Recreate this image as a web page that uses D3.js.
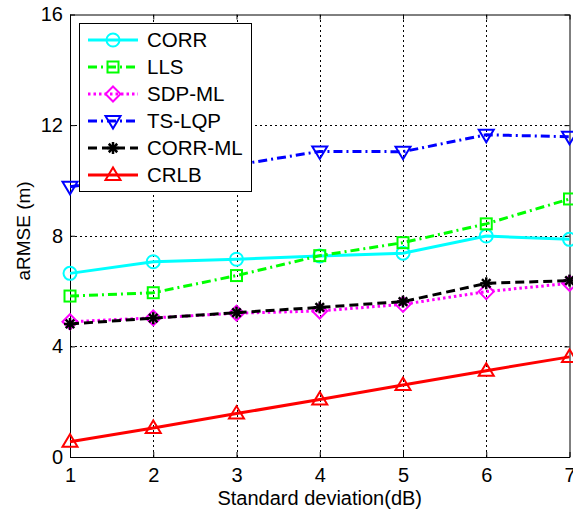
<!DOCTYPE html>
<html>
<head>
<meta charset="utf-8">
<script src="https://cdn.jsdelivr.net/npm/d3@7"></script>
<style>
  body { margin:0; background:#fff; }
  svg { display:block; font-family:"Liberation Sans", Arial, sans-serif; }
</style>
</head>
<body>
<svg id="chart" width="573" height="514"></svg>
<script>
// x values (standard deviation, dB)
const sigma = [1, 2, 3, 4, 5, 6, 7];

// aRMSE values per method
const corr   = [6.64, 7.06, 7.15, 7.27, 7.37, 7.99, 7.87];
const lls    = [5.82, 5.94, 6.56, 7.28, 7.75, 8.43, 9.33];
const sdpml  = [4.89, 5.03, 5.20, 5.28, 5.52, 5.98, 6.28];
const tslqp  = [9.77, 10.2, 10.56, 11.05, 11.04, 11.65, 11.58];
const corrml = [4.81, 5.02, 5.22, 5.41, 5.62, 6.28, 6.38];
const crlb   = [0.55, 1.05, 1.57, 2.08, 2.6, 3.12, 3.62];

const yTicks = [0, 4, 8, 12, 16];
const names = ['CORR', 'LLS', 'SDP-ML', 'TS-LQP', 'CORR-ML', 'CRLB'];

const series = [
  {name:names[0], values:corr,   color:'#00ffff', dash:null,        marker:'circle'},
  {name:names[1], values:lls,    color:'#00ff00', dash:'9,4,2,4',   marker:'square'},
  {name:names[2], values:sdpml,  color:'#ff00ff', dash:'2.5,3',     marker:'diamond'},
  {name:names[3], values:tslqp,  color:'#0000ff', dash:'9,4,2,4',   marker:'tridown'},
  {name:names[4], values:corrml, color:'#000000', dash:'9,5',       marker:'star'},
  {name:names[5], values:crlb,   color:'#ff0000', dash:null,        marker:'triup'}
];

const margin = {left:70, right:3.5, top:14.5, bottom:57};
const width = 573, height = 514;
const svg = d3.select('#chart');

const x = d3.scaleLinear().domain([1, 7]).range([margin.left, width - margin.right]);
const y = d3.scaleLinear().domain([0, 16]).range([height - margin.bottom, margin.top]);

// grid
const grid = svg.append('g').attr('stroke', '#000').attr('stroke-width', 1)
  .attr('stroke-dasharray', '2,3').attr('shape-rendering', 'crispEdges');
grid.selectAll('line.gx').data(sigma.slice(1, -1)).join('line')
  .attr('x1', d => Math.round(x(d)) + 0.5).attr('x2', d => Math.round(x(d)) + 0.5)
  .attr('y1', y(0)).attr('y2', y(16));
grid.selectAll('line.gy').data(yTicks.slice(1, -1)).join('line')
  .attr('y1', d => Math.round(y(d)) + 0.5).attr('y2', d => Math.round(y(d)) + 0.5)
  .attr('x1', x(1)).attr('x2', x(7));

// axes (ticks inward, mirrored on top/right)
const tickLen = 5;
const axB = svg.append('g').attr('transform', `translate(0,${y(0)})`)
  .call(d3.axisBottom(x).tickValues(sigma).tickFormat(d3.format('d')).tickSizeInner(-tickLen).tickSizeOuter(0).tickPadding(11));
const axL = svg.append('g').attr('transform', `translate(${x(1)},0)`)
  .call(d3.axisLeft(y).tickValues(yTicks).tickSizeInner(-tickLen).tickSizeOuter(0).tickPadding(7));
const axT = svg.append('g').attr('transform', `translate(0,${y(16)})`)
  .call(d3.axisTop(x).tickValues(sigma).tickFormat('').tickSizeInner(-tickLen).tickSizeOuter(0));
const axR = svg.append('g').attr('transform', `translate(${x(7)},0)`)
  .call(d3.axisRight(y).tickValues(yTicks).tickFormat('').tickSizeInner(-tickLen).tickSizeOuter(0));
[axB, axL, axT, axR].forEach(a => {
  a.selectAll('path.domain').attr('stroke', '#000').attr('stroke-width', 1);
  a.selectAll('text').attr('font-size', 20).attr('fill', '#000')
    .attr('font-family', '"Liberation Sans", Arial, sans-serif');
});
axB.selectAll('.tick text').attr('dy', '0.71em');

// axis labels
svg.append('text').attr('x', x(4)).attr('y', 505).attr('text-anchor', 'middle')
  .attr('font-size', 20).text('Standard deviation(dB)');
svg.append('text').attr('transform', 'translate(30,231) rotate(-90)').attr('text-anchor', 'middle')
  .attr('font-size', 19).text('aRMSE (m)');

// markers
function drawMarker(g, type, color, cx, cy) {
  const s = g.append('g').attr('transform', `translate(${cx},${cy})`)
    .attr('fill', 'none').attr('stroke', color).attr('stroke-width', 2);
  if (type === 'circle') s.append('circle').attr('r', 6.5);
  else if (type === 'square') s.append('rect').attr('x', -5.5).attr('y', -5.5).attr('width', 11).attr('height', 11);
  else if (type === 'diamond') s.append('path').attr('d', 'M0,-7.5L7.5,0L0,7.5L-7.5,0Z');
  else if (type === 'tridown') s.append('path').attr('d', 'M-7.5,-5L7.5,-5L0,7.5Z');
  else if (type === 'triup') s.append('path').attr('d', 'M-7.5,5L7.5,5L0,-7.5Z');
  else if (type === 'star') {
    s.attr('stroke-width', 2.5);
    [0, 45, 90, 135].forEach(a => s.append('line').attr('x1', -6).attr('x2', 6)
      .attr('transform', `rotate(${a})`));
  }
}

const line = d3.line().x((d, i) => x(sigma[i])).y(d => y(d));
const plot = svg.append('g');
series.forEach(s => {
  const g = plot.append('g');
  g.append('path').datum(s.values).attr('d', line).attr('fill', 'none')
    .attr('stroke', s.color).attr('stroke-width', 3)
    .attr('stroke-dasharray', s.dash);
  s.values.forEach((v, i) => drawMarker(g, s.marker, s.color, x(sigma[i]), y(v)));
});

// legend
const lg = svg.append('g').attr('transform', 'translate(79,23)');
lg.append('rect').attr('width', 172).attr('height', 168).attr('fill', '#fff')
  .attr('stroke', '#000').attr('stroke-width', 1).attr('shape-rendering', 'crispEdges');
series.forEach((s, i) => {
  const ly = 17 + i * 27;
  const e = lg.append('g');
  e.append('line').attr('x1', 9).attr('x2', 59).attr('y1', ly).attr('y2', ly)
    .attr('stroke', s.color).attr('stroke-width', 3).attr('stroke-dasharray', s.dash);
  drawMarker(e, s.marker, s.color, 34, ly);
  e.append('text').attr('x', 68).attr('y', ly).attr('dy', '0.36em')
    .attr('font-size', 20.5).text(s.name);
});
</script>
</body>
</html>
